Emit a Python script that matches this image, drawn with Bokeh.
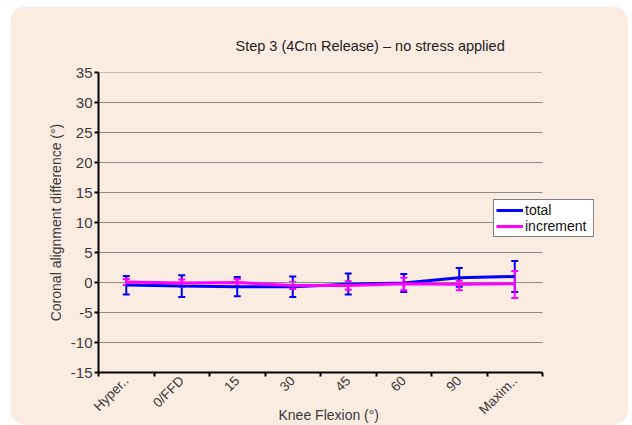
import math
from bokeh.plotting import figure
from bokeh.models import (ColumnDataSource, FixedTicker, Whisker, TeeHead, Legend, LegendItem, Range1d, Title)
from bokeh.embed import file_html
from bokeh.resources import INLINE

categories = ["Hyper..", "0/FFD", "15", "30", "45", "60", "90", "Maxim.."]
total = [-0.4, -0.6, -0.7, -0.7, -0.3, -0.1, 0.8, 1.0]
total_upper = [1.1, 1.2, 0.9, 1.0, 1.5, 1.4, 2.4, 3.6]
total_lower = [-2.0, -2.4, -2.3, -2.4, -2.0, -1.6, -0.7, -1.6]
increment = [0.1, -0.1, 0.0, -0.5, -0.5, -0.2, -0.3, -0.2]
increment_upper = [0.6, 0.5, 0.6, 0.1, 0.2, 0.8, 0.3, 1.9]
increment_lower = [-0.4, -0.7, -0.6, -1.1, -1.2, -1.3, -1.3, -2.6]
y_ticks = [-15, -10, -5, 0, 5, 10, 15, 20, 25, 30, 35]

FONT = "Liberation Sans"
TXT = "#3a3a3a"
BG = "#fbece2"

# layout (pixels): the categories use 444 px, the frame extends further right for the legend
W, H = 618, 419
LEFT, RIGHT, TOP, BOTTOM = 88, 26, 66, 52
CAT_W = 444
frame_w = W - LEFT - RIGHT
n = len(categories)
x_end = n * frame_w / CAT_W

xs = [i + 0.5 for i in range(n)]
src_t = ColumnDataSource(dict(x=xs, y=total, up=total_upper, lo=total_lower))
src_i = ColumnDataSource(dict(x=xs, y=increment, up=increment_upper, lo=increment_lower))

p = figure(width=W, height=H, output_backend="svg", toolbar_location=None,
           x_range=Range1d(0, x_end), y_range=Range1d(-15, 35),
           min_border_left=LEFT, min_border_right=RIGHT, min_border_top=TOP, min_border_bottom=BOTTOM,
           background_fill_color=BG, border_fill_color=BG, outline_line_color=None,
           title="Step 3 (4Cm Release) \u2013 no stress applied")
p.margin = (6, 0, 0, 10)
p.styles = {"border-radius": "16px", "overflow": "hidden"}

p.title.text_font = FONT
p.title.text_font_size = "14.5px"
p.title.text_font_style = "normal"
p.title.text_color = "#222222"
p.title.align = "left"
p.title.offset = 137
p.title.standoff = 38

# axes
p.xaxis.bounds = (0, n)
p.xaxis.ticker = FixedTicker(ticks=xs, minor_ticks=list(range(n + 1)))
p.xaxis.major_label_overrides = {x: c for x, c in zip(xs, categories)}
p.xaxis.major_label_orientation = math.pi / 4
p.xaxis.major_tick_line_color = None
p.xaxis.minor_tick_line_color = "black"
p.xaxis.minor_tick_line_width = 2
p.xaxis.minor_tick_out = 4
p.xaxis.minor_tick_in = 0
p.xaxis.axis_line_width = 2
p.xaxis.axis_line_color = "black"
p.xaxis.major_label_standoff = 0

xtitle = Title(text="Knee Flexion (\u00b0)", align="left", offset=180, standoff=-38,
               vertical_align="top",
               text_font=FONT, text_font_size="14px", text_font_style="normal", text_color=TXT)
p.add_layout(xtitle, "below")

p.yaxis.ticker = FixedTicker(ticks=y_ticks)
p.yaxis.major_label_overrides = {t: str(t) for t in y_ticks}
p.yaxis.minor_tick_line_color = None
p.yaxis.major_tick_line_width = 2
p.yaxis.major_tick_out = 4
p.yaxis.major_tick_in = 0
p.yaxis.axis_line_width = 2
p.yaxis.axis_line_color = "black"
p.yaxis.axis_label = "Coronal alignment difference (\u00b0)"
p.yaxis.axis_label_standoff = 4
p.yaxis.major_label_standoff = 2
p.yaxis.axis_label_text_font = FONT
p.yaxis.axis_label_text_font_size = "14px"
p.yaxis.axis_label_text_font_style = "normal"
p.yaxis.axis_label_text_color = TXT

for ax in (p.xaxis[0], p.yaxis[0]):
    ax.major_label_text_font = FONT
    ax.major_label_text_color = TXT
p.xaxis.major_label_text_font_size = "13.5px"
p.yaxis.major_label_text_font_size = "15px"

p.xgrid.grid_line_color = None
p.ygrid.grid_line_color = None
grid_y = y_ticks[1:]
p.segment(x0=[0] * len(grid_y), x1=[n] * len(grid_y), y0=grid_y, y1=grid_y,
          line_color="#8a8a8a", line_width=1)

BLUE = "#0000ff"
PINK = "#ff00ff"

rt = p.line("x", "y", source=src_t, line_color=BLUE, line_width=3)
wt = Whisker(source=src_t, base="x", upper="up", lower="lo", line_color=BLUE, line_width=2,
             upper_head=TeeHead(size=7, line_color=BLUE, line_width=2),
             lower_head=TeeHead(size=7, line_color=BLUE, line_width=2))
p.add_layout(wt)
ri = p.line("x", "y", source=src_i, line_color=PINK, line_width=3)
wi = Whisker(source=src_i, base="x", upper="up", lower="lo", line_color=PINK, line_width=2,
             upper_head=TeeHead(size=7, line_color=PINK, line_width=2),
             lower_head=TeeHead(size=7, line_color=PINK, line_width=2))
p.add_layout(wi)

legend = Legend(items=[LegendItem(label="total", renderers=[rt]),
                       LegendItem(label="increment", renderers=[ri])],
                location=(395, 135), orientation="vertical")
legend.label_text_font = FONT
legend.label_text_font_size = "14px"
legend.label_text_color = "#111111"
legend.label_height = 14
legend.label_width = 66
legend.glyph_height = 14
legend.glyph_width = 27
legend.label_standoff = 2
legend.spacing = 0
legend.padding = 2
legend.margin = 0
legend.border_line_color = "black"
legend.border_line_width = 1
legend.background_fill_color = "white"
legend.background_fill_alpha = 1
p.add_layout(legend, "center")

open("out.html", "w").write(file_html(p, INLINE))
